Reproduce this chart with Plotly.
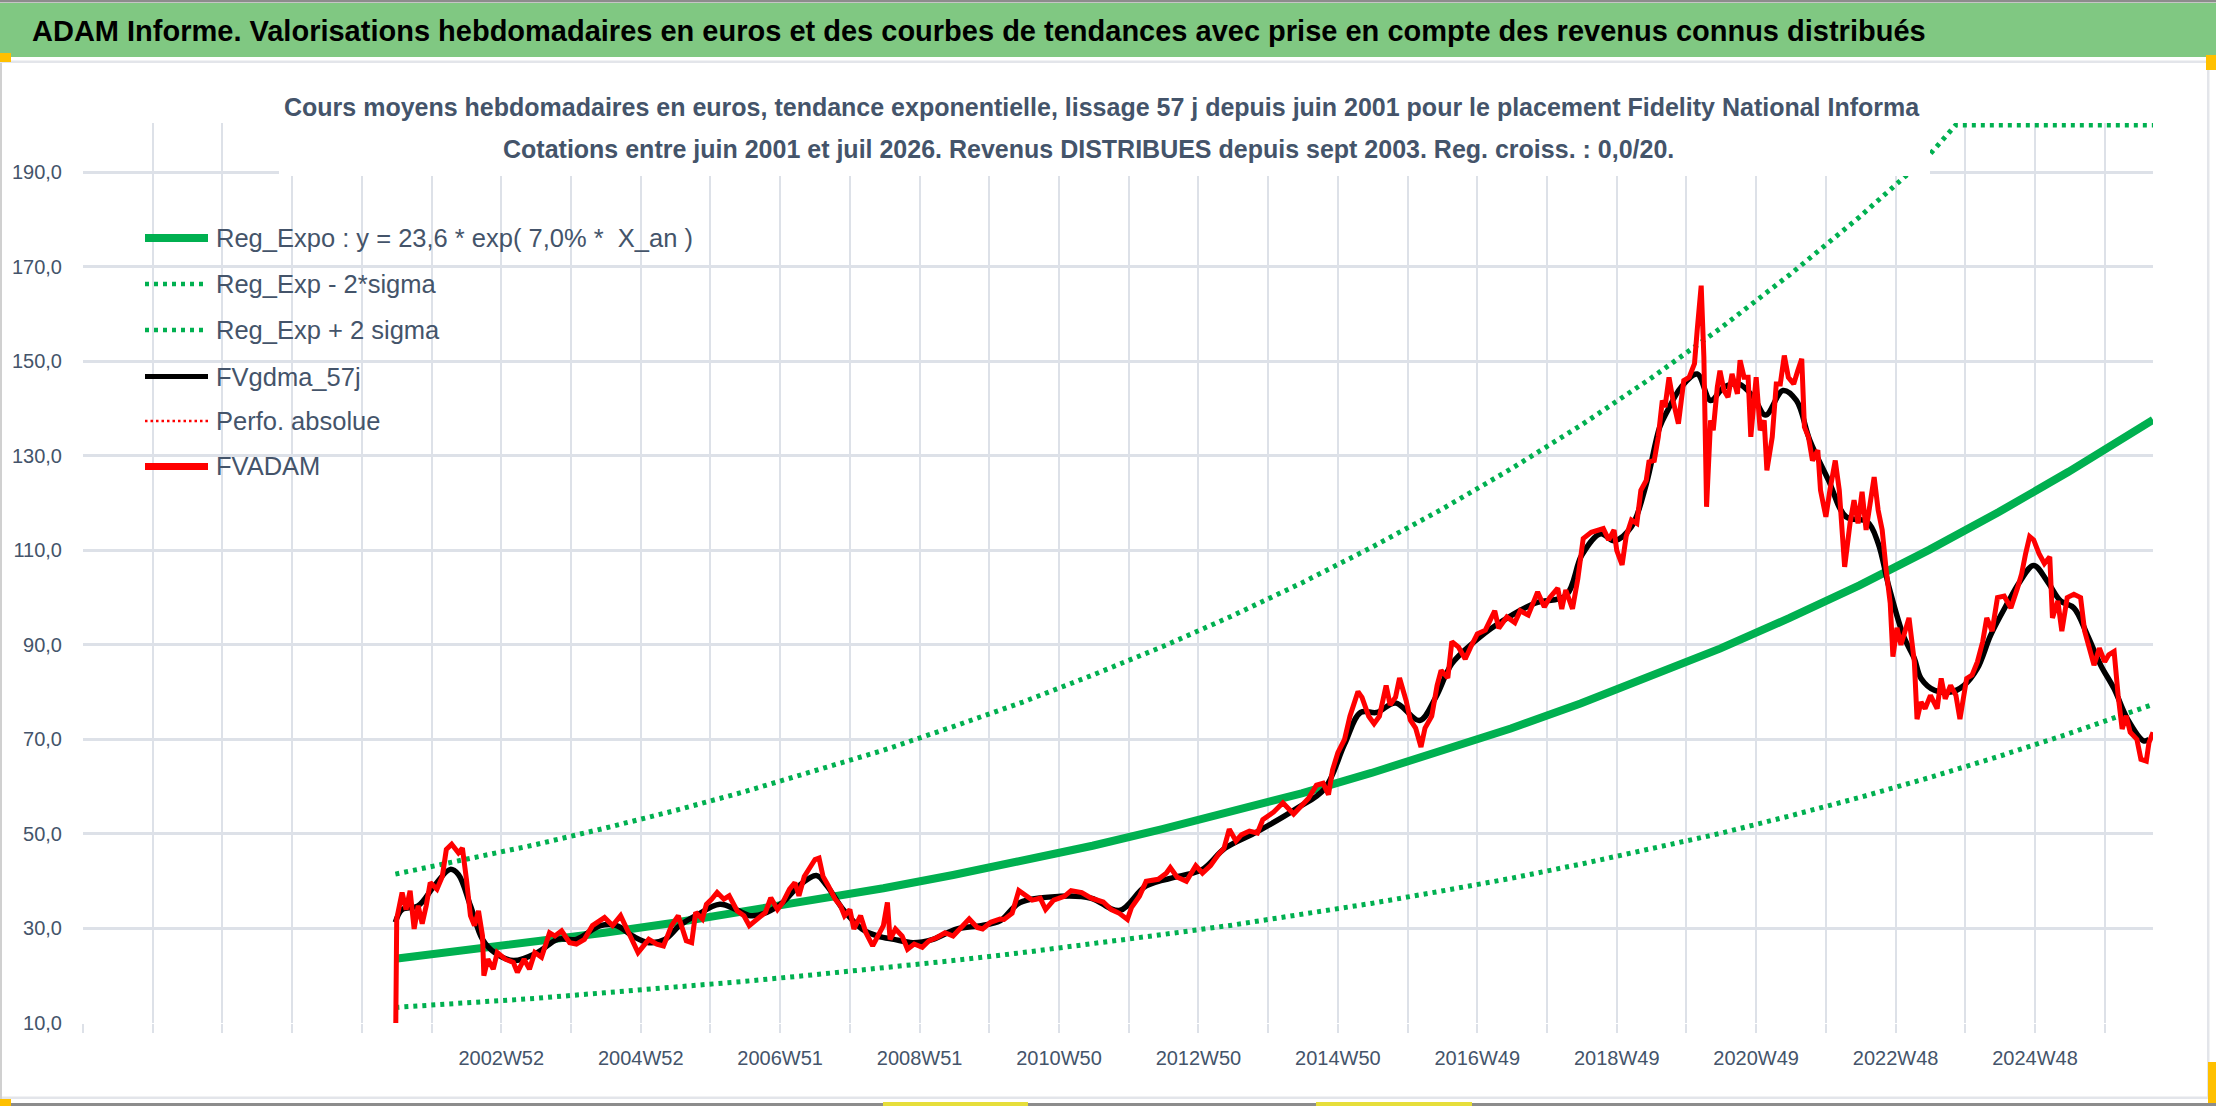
import plotly.graph_objects as go

# x positions are weeks counted from the first (empty) category of the axis,
# one vertical grid line every 52 weeks
fvadam_weeks = [
    233, 234, 238, 241, 244, 247, 250, 253, 256, 259, 264, 268, 271, 275, 280, 283, 286, 289, 292, 295,
    298, 299, 302, 306, 309, 315, 321, 324, 329, 333, 337, 342, 348, 352, 357, 363, 368, 374, 380, 389,
    395, 401, 407, 414, 422, 428, 433, 439, 444, 450, 454, 457, 462, 465, 469, 473, 478, 482, 488, 493,
    497, 503, 509, 513, 518, 522, 527, 531, 534, 538, 543, 546, 549, 552, 556, 561, 565, 568, 572, 575,
    580, 584, 589, 593, 597, 600, 602, 606, 611, 615, 620, 626, 631, 637, 643, 649, 655, 661, 667, 671,
    677, 684, 687, 693, 698, 702, 708, 714, 718, 724, 732, 737, 745, 752, 761, 767, 773, 779, 782, 788,
    793, 802, 808, 811, 816, 823, 830, 835, 841, 847, 851, 855, 860, 864, 870, 876, 880, 888, 895, 903,
    908, 914, 920, 925, 929, 932, 936, 941, 945, 951, 954, 959, 963, 967, 972, 975, 979, 982, 987, 990,
    994, 998, 1001, 1006, 1010, 1013, 1018, 1021, 1026, 1031, 1035, 1040, 1046, 1053, 1056, 1062, 1068, 1072, 1078, 1085,
    1090, 1094, 1100, 1103, 1106, 1111, 1115, 1119, 1125, 1130, 1134, 1138, 1142, 1144, 1148, 1151, 1155, 1159, 1162, 1166,
    1168, 1172, 1175, 1178, 1180, 1183, 1186, 1190, 1194, 1198, 1202, 1204, 1207, 1209, 1211, 1214, 1216, 1219, 1221, 1224,
    1227, 1230, 1234, 1236, 1239, 1242, 1244, 1248, 1251, 1254, 1256, 1260, 1263, 1266, 1269, 1272, 1276, 1279, 1282, 1284,
    1287, 1290, 1294, 1296, 1300, 1303, 1307, 1310, 1314, 1318, 1321, 1324, 1327, 1330, 1334, 1336, 1339, 1342, 1345, 1348,
    1350, 1353, 1356, 1359, 1362, 1366, 1368, 1371, 1374, 1378, 1383, 1386, 1389, 1393, 1397, 1400, 1405, 1409, 1413, 1417,
    1420, 1424, 1428, 1433, 1438, 1443, 1446, 1449, 1452, 1455, 1459, 1463, 1467, 1469, 1473, 1476, 1480, 1485, 1490, 1493,
    1496, 1500, 1504, 1508, 1511, 1515, 1518, 1521, 1524, 1527, 1532, 1535, 1539, 1541, 1544,
]
fvadam = [
    0, 32.0, 37.6, 34.0, 38.0, 29.9, 34.8, 31.0, 34.8, 39.7, 38.3, 41.0, 46.7, 47.8, 46.0, 47.0, 40.4, 32.7, 30.6, 33.7,
    28.4, 20.0, 23.5, 21.4, 24.9, 23.5, 22.8, 20.7, 23.5, 21.4, 24.9, 23.9, 29.1, 28.4, 29.5, 27.0, 26.7, 27.7, 30.6, 32.3,
    30.6, 32.7, 29.1, 24.9, 27.7, 26.7, 26.3, 30.6, 32.7, 27.4, 27.0, 33.4, 32.0, 35.1, 36.2, 37.6, 36.2, 36.9, 33.7, 32.7,
    30.6, 32.0, 33.4, 36.5, 34.0, 35.5, 38.3, 39.7, 36.9, 41.0, 43.2, 44.6, 44.9, 41.0, 39.0, 36.2, 34.8, 32.7, 34.0, 29.9,
    32.7, 29.1, 26.3, 28.4, 30.6, 35.5, 27.7, 29.9, 28.4, 25.6, 26.7, 26.0, 27.4, 28.1, 29.1, 28.4, 30.2, 32.0, 30.2, 29.9,
    31.3, 32.0, 31.9, 33.2, 38.0, 37.2, 36.0, 36.4, 34.0, 36.0, 36.8, 38.0, 37.6, 36.4, 35.6, 34.0, 33.2, 31.9, 34.4, 36.8,
    40.0, 40.4, 41.7, 42.9, 40.9, 40.0, 43.3, 41.7, 43.3, 45.7, 46.9, 51.0, 48.5, 49.8, 50.6, 50.2, 53.0, 54.6, 56.6, 54.2,
    55.8, 57.5, 60.3, 60.7, 58.3, 63.5, 67.2, 70.0, 74.9, 80.1, 78.9, 74.9, 73.3, 74.9, 81.4, 77.3, 78.9, 83.0, 78.1, 74.1,
    72.4, 68.4, 72.4, 74.9, 81.4, 84.6, 83.0, 90.7, 89.5, 87.0, 89.5, 92.3, 93.1, 97.2, 93.5, 95.9, 94.7, 97.2, 96.3, 101.2,
    98.0, 100.0, 102.0, 97.6, 101.6, 97.6, 104.0, 112.5, 113.8, 114.3, 114.6, 112.2, 114.3, 110.0, 106.9, 112.9, 116.4, 115.7, 122.7, 124.8,
    128.7, 129.0, 134.0, 141.7, 140.3, 146.6, 141.7, 136.8, 145.9, 146.6, 149.5, 156.5, 166.0, 150.9, 119.2, 137.5, 135.4, 144.5, 148.0, 143.8,
    142.4, 147.3, 143.1, 150.2, 146.6, 146.6, 134.0, 146.6, 135.4, 137.5, 126.9, 134.0, 145.2, 145.2, 151.2, 146.6, 145.2, 148.0, 150.5, 136.1,
    134.0, 129.0, 131.2, 122.7, 117.1, 122.7, 129.0, 122.7, 106.5, 115.7, 120.6, 115.7, 122.4, 114.3, 121.3, 125.5, 118.5, 114.3, 105.8, 98.8,
    87.5, 93.6, 90.0, 92.9, 95.7, 86.4, 74.3, 77.9, 76.5, 79.3, 76.5, 82.9, 78.6, 81.4, 79.3, 74.3, 82.9, 83.6, 86.4, 90.7,
    95.7, 92.9, 100.0, 100.3, 97.8, 102.1, 105.0, 109.3, 112.9, 112.2, 109.3, 107.2, 108.6, 95.7, 99.3, 92.9, 100.0, 100.7, 100.0, 92.9,
    90.0, 85.7, 89.3, 86.4, 87.9, 88.6, 79.3, 72.2, 75.0, 71.5, 70.0, 65.8, 65.4, 69.3, 71.5,
]

gdma_weeks = [
    233, 238, 250, 262, 274, 280, 289, 298, 307, 321, 339, 354, 368, 386, 398, 410, 422, 434, 445, 457,
    475, 487, 498, 510, 522, 534, 547, 555, 567, 581, 593, 605, 619, 634, 652, 670, 684, 699, 729, 752,
    773, 793, 817, 835, 852, 876, 906, 926, 941, 953, 965, 979, 997, 1009, 1021, 1038, 1053, 1083, 1106, 1118,
    1132, 1142, 1155, 1166, 1176, 1182, 1192, 1204, 1214, 1224, 1235, 1246, 1255, 1268, 1278, 1288, 1302, 1315, 1331, 1339,
    1347, 1358, 1366, 1371, 1381, 1393, 1403, 1413, 1423, 1435, 1445, 1455, 1465, 1475, 1485, 1495, 1505, 1515, 1525, 1537,
    1541,
]
fvgdma_57j = [
    31.3, 34.0, 34.8, 39.0, 42.5, 41.4, 34.8, 27.7, 24.9, 23.2, 24.9, 27.7, 27.7, 30.6, 30.6, 28.4, 27.0, 27.7, 30.6, 32.7,
    35.1, 34.0, 32.7, 33.4, 35.5, 39.0, 41.2, 39.0, 34.0, 29.9, 28.4, 27.7, 27.0, 27.7, 29.9, 30.6, 31.6, 35.5, 36.8, 36.4,
    33.8, 39.0, 41.0, 42.5, 47.0, 50.5, 55.5, 59.5, 69.0, 75.7, 75.7, 77.7, 74.0, 78.9, 86.0, 90.7, 94.0, 98.8, 100.4, 109.0,
    113.5, 112.0, 115.0, 124.0, 136.0, 139.6, 144.5, 147.3, 141.7, 144.5, 145.2, 142.4, 138.6, 143.8, 141.7, 133.3, 124.8, 117.1, 116.0, 111.5,
    102.3, 91.8, 87.1, 82.9, 80.4, 80.0, 81.4, 85.0, 92.1, 98.6, 103.5, 106.8, 103.5, 99.3, 97.8, 92.1, 85.7, 80.7, 74.3, 69.7,
    70.0,
]

trend_weeks = [233, 285, 337, 389, 441, 493, 545, 597, 649, 701, 753, 805, 857, 909, 961, 1013, 1065, 1117, 1169,
               1221, 1273, 1325, 1377, 1429, 1481, 1533, 1544]
reg_expo = [23.6, 25.3, 27.1, 29.1, 31.2, 33.5, 35.9, 38.5, 41.3, 44.3, 47.5, 51.0, 54.7, 58.6, 62.9, 67.4, 72.3,
            77.6, 83.2, 89.2, 95.7, 102.6, 110.1, 118.1, 126.6, 135.8, 137.6]
reg_minus_2s = [13.3, 14.2, 15.2, 16.4, 17.5, 18.8, 20.2, 21.6, 23.2, 24.9, 26.7, 28.7, 30.7, 32.9, 35.3, 37.9, 40.6,
                43.6, 46.8, 50.1, 53.8, 57.7, 61.9, 66.4, 71.2, 76.3, 77.4]
plus_weeks = [233, 285, 337, 389, 441, 493, 545, 597, 649, 701, 753, 805, 857, 909, 961, 1013, 1065, 1117, 1169,
              1221, 1273, 1325, 1377, 1397, 1544]
reg_plus_2s = [41.5, 44.5, 47.7, 51.2, 54.9, 58.9, 63.2, 67.7, 72.7, 77.9, 83.6, 89.6, 96.1, 103.1, 110.6, 118.6,
               127.2, 136.4, 146.3, 156.9, 168.3, 180.5, 193.6, 200.0, 200.0]

week_labels = ["2002W52", "2004W52", "2006W51", "2008W51", "2010W50", "2012W50",
               "2014W50", "2016W49", "2018W49", "2020W49", "2022W48", "2024W48"]

W, H = 2216, 1106
ML, MR, MT, MB = 83, 63, 123, 83
GREEN = "#00B050"
GRID = "#DDE1E8"
SLATE = "#44546A"
FONT = "Liberation Sans, Arial, sans-serif"
DOTS = "4px,5px"


def px(x):
    return (x - ML) / (W - ML - MR)


def py(y):
    return 1 - (y - MT) / (H - MT - MB)


grid_weeks = [52 * k for k in range(30)]
grid_text = [""] * 30
for i, lab in enumerate(week_labels):
    grid_text[6 + 2 * i] = lab

fig = go.Figure()
fig.add_trace(go.Scatter(x=trend_weeks, y=reg_expo, mode="lines", name="Reg_Expo",
                         line=dict(color=GREEN, width=8)))
fig.add_trace(go.Scatter(x=trend_weeks, y=reg_minus_2s, mode="lines", name="Reg_Exp - 2*sigma",
                         line=dict(color=GREEN, width=5, dash=DOTS)))
fig.add_trace(go.Scatter(x=plus_weeks, y=reg_plus_2s, mode="lines", name="Reg_Exp + 2 sigma",
                         line=dict(color=GREEN, width=5, dash=DOTS)))
fig.add_trace(go.Scatter(x=gdma_weeks, y=fvgdma_57j, mode="lines", name="FVgdma_57j",
                         line=dict(color="black", width=5.5, shape="spline")))
fig.add_trace(go.Scatter(x=fvadam_weeks, y=fvadam, mode="lines", name="FVADAM",
                         line=dict(color="#FF0000", width=5)))

shapes = [
    # page frame and banner
    dict(type="rect", xref="paper", yref="paper", x0=px(0), x1=px(W), y0=py(0), y1=py(2.5),
         fillcolor="#8C8C8C", line_width=0),
    dict(type="rect", xref="paper", yref="paper", x0=px(0), x1=px(W), y0=py(3), y1=py(57),
         fillcolor="#80C882", line_width=0),
    dict(type="rect", xref="paper", yref="paper", x0=px(0), x1=px(W), y0=py(60.5), y1=py(63),
         fillcolor="#E3E5EA", line_width=0),
    dict(type="rect", xref="paper", yref="paper", x0=px(2207), x1=px(2209.5), y0=py(63), y1=py(1098),
         fillcolor="#E3E5EA", line_width=0),
    dict(type="rect", xref="paper", yref="paper", x0=px(0), x1=px(W), y0=py(1096.5), y1=py(1099),
         fillcolor="#E3E5EA", line_width=0),
    dict(type="rect", xref="paper", yref="paper", x0=px(0), x1=px(W), y0=py(1103), y1=py(1106),
         fillcolor="#8C8C8C", line_width=0),
    dict(type="rect", xref="paper", yref="paper", x0=px(0), x1=px(2), y0=py(63), y1=py(1106),
         fillcolor="#D0D0D0", line_width=0),
    dict(type="rect", xref="paper", yref="paper", x0=px(0), x1=px(11), y0=py(53), y1=py(62),
         fillcolor="#FFC000", line_width=0),
    dict(type="rect", xref="paper", yref="paper", x0=px(2206), x1=px(W), y0=py(55), y1=py(70),
         fillcolor="#FFC000", line_width=0),
    dict(type="rect", xref="paper", yref="paper", x0=px(2208), x1=px(W), y0=py(1062), y1=py(1103),
         fillcolor="#FFC000", line_width=0),
    dict(type="rect", xref="paper", yref="paper", x0=px(0), x1=px(11), y0=py(1099), y1=py(1106),
         fillcolor="#FFC000", line_width=0),
    dict(type="rect", xref="paper", yref="paper", x0=px(883), x1=px(1028), y0=py(1102), y1=py(1106),
         fillcolor="#E6DE3A", line_width=0),
    dict(type="rect", xref="paper", yref="paper", x0=px(1316), x1=px(1472), y0=py(1102), y1=py(1106),
         fillcolor="#E6DE3A", line_width=0),
    # white box behind the subtitle
    dict(type="rect", xref="paper", yref="paper", x0=px(279), x1=px(1930), y0=py(176), y1=py(118),
         fillcolor="white", line_width=0, layer="above"),
]

annotations = [
    dict(text="<b>ADAM Informe. Valorisations hebdomadaires en euros et des courbes de tendances avec prise en compte des revenus connus distribués</b>",
         xref="paper", yref="paper", x=px(30), y=py(31), xanchor="left", yanchor="middle",
         showarrow=False, font=dict(family=FONT, size=29, color="black")),
    dict(text="<b>Cours moyens hebdomadaires en euros, tendance exponentielle, lissage 57 j depuis juin 2001 pour le placement Fidelity National Informa</b>",
         xref="paper", yref="paper", x=px(1102), y=py(107), xanchor="center", yanchor="middle",
         showarrow=False, font=dict(family=FONT, size=25, color=SLATE)),
    dict(text="<b>Cotations entre juin 2001 et juil 2026. Revenus DISTRIBUES depuis sept 2003. Reg. croiss. : 0,0/20.</b>",
         xref="paper", yref="paper", x=px(1088), y=py(149), xanchor="center", yanchor="middle",
         showarrow=False, font=dict(family=FONT, size=25, color=SLATE)),
]

# legend drawn by hand to get Excel's long sample lines and spacing
legend_items = [
    ("Reg_Expo : y = 23,6 * exp( 7,0% *  X_an )", GREEN, 8, "solid", 238),
    ("Reg_Exp - 2*sigma", GREEN, 4.5, DOTS, 284),
    ("Reg_Exp + 2 sigma", GREEN, 4.5, DOTS, 330),
    ("FVgdma_57j", "black", 5, "solid", 376.5),
    ("Perfo. absolue", "#FF0000", 2.5, "2.5px,3px", 421),
    ("FVADAM", "#FF0000", 7, "solid", 466.5),
]
for text, color, width, dash, ypix in legend_items:
    shapes.append(dict(type="line", xref="paper", yref="paper", x0=px(145), x1=px(208),
                       y0=py(ypix), y1=py(ypix), line=dict(color=color, width=width, dash=dash)))
    annotations.append(dict(text=text, xref="paper", yref="paper", x=px(214), y=py(ypix),
                            xanchor="left", yanchor="middle", showarrow=False,
                            font=dict(family=FONT, size=25.5, color=SLATE)))

fig.update_layout(
    width=W, height=H, autosize=False,
    margin=dict(l=ML, r=MR, t=MT, b=MB),
    paper_bgcolor="white", plot_bgcolor="white",
    showlegend=False,
    separators=", ",
    font=dict(family=FONT, color=SLATE),
    shapes=shapes, annotations=annotations,
    xaxis=dict(range=[0, 1544], tickvals=grid_weeks, ticktext=grid_text,
               showgrid=True, gridcolor=GRID, gridwidth=2, zeroline=False, showline=False,
               ticks="outside", ticklen=9, tickwidth=2, tickcolor=GRID, ticklabelstandoff=8,
               tickfont=dict(family=FONT, size=20, color=SLATE)),
    yaxis=dict(range=[10, 200.4], tick0=10, dtick=20, tickformat=".1f",
               showgrid=True, gridcolor=GRID, gridwidth=2.5, zeroline=False, showline=False,
               ticks="", ticklabelstandoff=20,
               tickfont=dict(family=FONT, size=20, color=SLATE)),
)

fig.write_html("out.html", config={"displayModeBar": False},
               post_script="document.body.style.margin='0';")
